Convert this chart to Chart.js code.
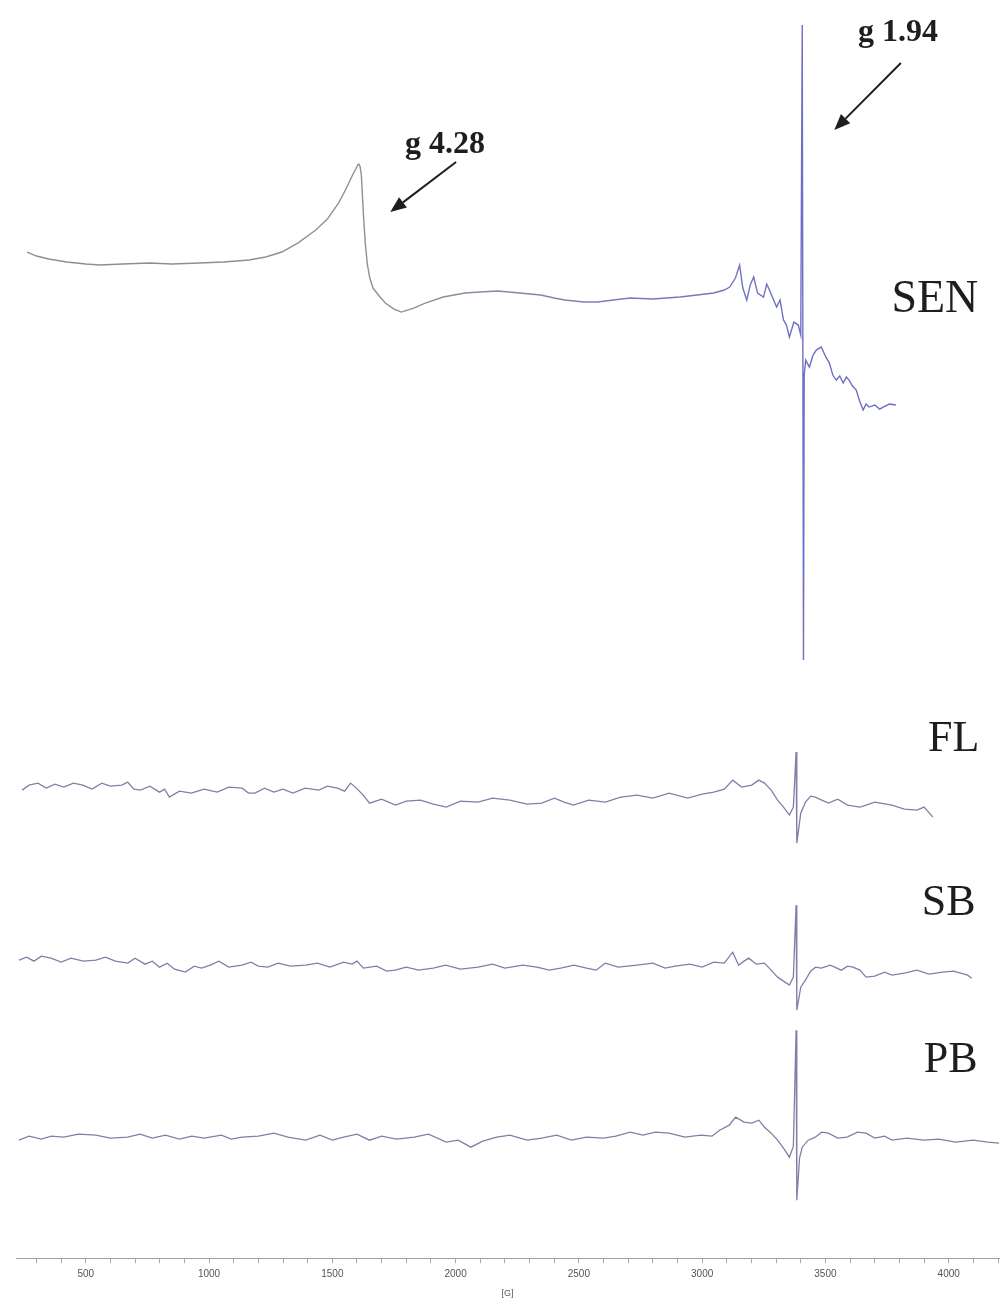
<!DOCTYPE html>
<html>
<head>
<meta charset="utf-8">
<script src="https://cdn.jsdelivr.net/npm/chart.js@4.4.1/dist/chart.umd.min.js"></script>
<style>
  html, body { margin: 0; padding: 0; background: #ffffff; }
  #wrap { width: 1003px; height: 1301px; }
</style>
</head>
<body>
<div id="wrap"><canvas id="c" width="1003" height="1301"></canvas></div>
<script>
// ---- Data (magnetic field in G, relative intensity in a.u.) ----
const seriesNames = ["SEN", "FL", "SB", "PB"];
const seriesOffsets = [-29, -79.5, -96.7, -113.8];

const senField = [262,300,350,423,500,557,650,758,850,960,1060,1162,1230,1295,1360,1433,1480,1525,1545,1565,1582,1595,1603,1608,1613,1618,1622,1627,1634,1642,1652,1665,1690,1715,1750,1780,1830,1877,1950,2038,2100,2171,2260,2345,2400,2442,2520,2575,2640,2708,2800,2910,2980,3047,3090,3112,3135,3152,3165,3181,3195,3209,3225,3249,3262,3273,3290,3302,3316,3330,3342,3354,3372,3390,3400,3406,3411,3414,3420,3435,3450,3463,3483,3500,3516,3530,3544,3558,3572,3585,3596,3610,3625,3640,3653,3665,3677,3700,3720,3734,3760,3786];
const senValue = [3.8,3.4,3.1,2.8,2.6,2.5,2.6,2.7,2.6,2.7,2.8,3.0,3.3,3.8,4.7,6.0,7.1,8.7,9.6,10.6,11.5,12.1,12.5,12.6,12.3,11.4,9.5,7.2,4.6,2.6,1.2,0.2,-0.6,-1.3,-1.9,-2.2,-1.8,-1.3,-0.7,-0.3,-0.2,-0.1,-0.3,-0.5,-0.8,-1.0,-1.2,-1.2,-1.0,-0.8,-0.9,-0.7,-0.5,-0.3,0.0,0.3,1.2,2.5,0.2,-1.0,0.5,1.3,-0.3,-0.7,0.6,0.0,-1.0,-1.7,-1.0,-3.0,-3.5,-4.7,-3.2,-3.5,-4.5,26.5,-37.0,-8.5,-7.0,-7.7,-6.5,-6.0,-5.7,-6.6,-7.3,-8.5,-9.0,-8.6,-9.3,-8.7,-9.0,-9.6,-10.0,-11.2,-12.0,-11.4,-11.7,-11.5,-11.9,-11.7,-11.4,-11.5];

const flField = [242,270,306,340,375,411,450,488,525,565,600,646,670,695,722,760,799,820,839,880,928,980,1033,1080,1134,1160,1186,1225,1263,1300,1340,1390,1445,1480,1521,1550,1574,1598,1625,1651,1700,1756,1800,1857,1910,1962,2020,2091,2150,2220,2290,2349,2401,2440,2478,2540,2607,2670,2736,2800,2866,2942,3000,3047,3090,3124,3160,3201,3230,3253,3280,3306,3330,3354,3370,3381,3384,3400,3419,3440,3459,3485,3512,3550,3590,3641,3700,3770,3820,3871,3900,3936];
const flValue = [0.5,1.0,1.2,0.7,1.1,0.8,1.2,1.0,0.6,1.2,0.9,1.0,1.3,0.6,0.5,0.9,0.3,0.6,-0.2,0.4,0.2,0.6,0.3,0.8,0.7,0.2,0.2,0.7,0.3,0.6,0.2,0.7,0.5,0.9,0.7,0.4,1.2,0.7,0.0,-0.8,-0.4,-1.0,-0.6,-0.5,-0.9,-1.2,-0.6,-0.7,-0.3,-0.5,-0.9,-0.8,-0.3,-0.7,-1.0,-0.5,-0.7,-0.2,0.0,-0.3,0.2,-0.3,0.1,0.3,0.6,1.5,0.8,1.0,1.5,1.2,0.5,-0.5,-1.2,-2.0,-1.2,4.3,-4.8,-1.8,-0.7,-0.1,-0.2,-0.5,-0.8,-0.4,-1.0,-1.2,-0.7,-1.0,-1.4,-1.5,-1.2,-2.2];

const sbField = [229,260,290,320,359,400,440,490,541,580,620,670,700,740,770,799,830,860,904,940,970,1005,1040,1080,1134,1170,1200,1239,1280,1330,1392,1440,1490,1546,1580,1600,1626,1680,1720,1755,1800,1850,1909,1960,2020,2091,2150,2200,2272,2330,2380,2426,2480,2531,2570,2607,2660,2736,2800,2850,2890,2950,3000,3047,3090,3124,3148,3170,3189,3220,3253,3280,3306,3330,3354,3370,3381,3384,3400,3419,3440,3460,3483,3520,3564,3590,3612,3640,3665,3700,3740,3770,3820,3871,3920,3976,4020,4077,4093];
const sbValue = [0.7,1.0,0.6,1.1,0.9,0.5,0.9,0.6,0.7,1.0,0.6,0.4,0.9,0.3,0.6,0.0,0.4,-0.2,-0.5,0.1,-0.1,0.2,0.6,0.0,0.2,0.5,0.1,0.0,0.4,0.1,0.2,0.4,0.0,0.5,0.3,0.6,-0.1,0.1,-0.4,-0.3,0.0,-0.3,-0.1,0.2,-0.2,0.0,0.3,-0.1,0.2,0.0,-0.3,-0.1,0.2,-0.1,-0.3,0.4,0.0,0.2,0.4,-0.1,0.1,0.3,0.0,0.5,0.4,1.5,0.2,0.6,0.9,0.3,0.4,-0.3,-1.0,-1.4,-1.8,-1.0,6.2,-4.3,-2.0,-1.3,-0.4,0.0,-0.1,0.2,-0.3,0.1,0.0,-0.3,-1.0,-0.9,-0.5,-0.8,-0.6,-0.3,-0.7,-0.5,-0.4,-0.8,-1.1];

const pbField = [229,270,320,360,411,470,541,600,670,720,770,823,880,930,980,1050,1090,1134,1200,1263,1320,1392,1450,1500,1546,1600,1651,1700,1760,1832,1890,1962,2010,2062,2110,2167,2220,2290,2349,2410,2470,2531,2600,2650,2708,2760,2810,2866,2930,2995,3040,3071,3110,3136,3170,3201,3230,3253,3280,3306,3330,3354,3370,3381,3384,3395,3406,3430,3459,3485,3512,3550,3588,3630,3665,3700,3740,3770,3830,3899,3960,4028,4100,4158,4205];
const pbValue = [-0.2,0.2,-0.1,0.2,0.1,0.4,0.3,0.0,0.1,0.4,0.0,0.3,-0.1,0.2,0.0,0.3,-0.1,0.1,0.2,0.5,0.1,-0.2,0.3,-0.2,0.1,0.4,-0.2,0.2,-0.1,0.1,0.4,-0.4,-0.2,-0.9,-0.3,0.1,0.3,-0.2,0.0,0.3,-0.2,0.1,0.0,0.2,0.6,0.3,0.6,0.5,0.1,0.3,0.2,0.8,1.3,2.1,1.6,1.5,1.8,1.1,0.5,-0.2,-1.0,-1.9,-0.8,10.8,-6.2,-2.0,-0.9,-0.2,0.1,0.6,0.5,0.0,0.1,0.6,0.5,0.0,0.2,-0.2,0.0,-0.2,-0.1,-0.4,-0.2,-0.4,-0.5];

const xTickStep = 100;
const xLabelStep = 500;
const xMin = 217, xMax = 4205;
const yMin = -125.8, yMax = 0;

// annotations: [text, field, value]
const peakLabels = [["g 4.28", 1957, -14.5], ["g 1.94", 3794, -3.3]];
const peakArrows = [[2002, -16.2, 1735, -21.2], [3806, -6.3, 3536, -13.0]];
const sampleLabelPos = [[3944, -30.0], [4020, -73.9], [4000, -90.3], [4008, -106.0]];

// ---- Build datasets ----
function pts(fx, vy, off) { return fx.map((g, i) => ({ x: g, y: vy[i] + off })); }
const fields = [senField, flField, sbField, pbField];
const values = [senValue, flValue, sbValue, pbValue];

function senGradient(ctx) {
  const ch = ctx.chart, a = ch.chartArea;
  if (!a) return '#888';
  const g = ch.ctx.createLinearGradient(a.left, 0, a.right, 0);
  g.addColorStop(0, '#8e8e8e');
  g.addColorStop(0.42, '#8f8f98');
  g.addColorStop(0.6, '#7c7cb8');
  g.addColorStop(0.8, '#6f6fc6');
  g.addColorStop(1, '#6c6cc8');
  return g;
}

const datasets = seriesNames.map((n, i) => ({
  label: n,
  data: pts(fields[i], values[i], seriesOffsets[i]),
  borderColor: i === 0 ? senGradient : '#7f7fa8',
  borderWidth: i === 0 ? 1.4 : 1.3,
  pointRadius: 0,
  fill: false,
  tension: 0
}));

const annotPlugin = {
  id: 'annot',
  afterDatasetsDraw(chart) {
    const c = chart.ctx, xs = chart.scales.x, ys = chart.scales.y;
    c.save();
    c.fillStyle = '#1e1e1e';
    c.strokeStyle = '#1e1e1e';
    c.textAlign = 'center';
    c.textBaseline = 'middle';
    c.font = 'bold 32px "Liberation Serif", "DejaVu Serif", serif';
    peakLabels.forEach(l => c.fillText(l[0], xs.getPixelForValue(l[1]), ys.getPixelForValue(l[2])));
    peakArrows.forEach(a => {
      const x1 = xs.getPixelForValue(a[0]), y1 = ys.getPixelForValue(a[1]);
      const x2 = xs.getPixelForValue(a[2]), y2 = ys.getPixelForValue(a[3]);
      const ang = Math.atan2(y2 - y1, x2 - x1);
      const hl = 16, hw = 6.5;
      const bx = x2 - hl * Math.cos(ang), by = y2 - hl * Math.sin(ang);
      c.lineWidth = 2;
      c.beginPath(); c.moveTo(x1, y1); c.lineTo(bx, by); c.stroke();
      c.beginPath();
      c.moveTo(x2, y2);
      c.lineTo(bx + hw * Math.sin(ang), by - hw * Math.cos(ang));
      c.lineTo(bx - hw * Math.sin(ang), by + hw * Math.cos(ang));
      c.closePath(); c.fill();
    });
    seriesNames.forEach((n, i) => {
      c.font = (i === 0 ? '46px' : '44px') + ' "Liberation Serif", "DejaVu Serif", serif';
      c.fillText(n, xs.getPixelForValue(sampleLabelPos[i][0]), ys.getPixelForValue(sampleLabelPos[i][1]));
    });
    c.restore();
  }
};

new Chart(document.getElementById('c'), {
  type: 'line',
  data: { datasets },
  plugins: [annotPlugin],
  options: {
    responsive: false,
    devicePixelRatio: 1,
    animation: false,
    layout: { padding: { left: 16, right: 0, top: 0, bottom: 0 } },
    plugins: { legend: { display: false }, tooltip: { enabled: false } },
    scales: {
      x: {
        type: 'linear',
        min: xMin, max: xMax,
        position: 'bottom',
        border: { display: true, color: '#a0a0a0', width: 1 },
        grid: { display: true, drawOnChartArea: false, drawTicks: true, tickLength: 5, color: '#aaaaaa' },
        ticks: {
          stepSize: xTickStep,
          includeBounds: false,
          autoSkip: false,
          maxRotation: 0,
          padding: 5,
          color: '#555555',
          font: { size: 10, family: '"Liberation Sans Narrow", "Liberation Sans", sans-serif' },
          callback: v => (v % xLabelStep === 0 ? String(v) : '')
        },
        title: {
          display: true, text: '[G]', color: '#5a5a5a',
          font: { size: 9, family: '"Liberation Sans Narrow", "Liberation Sans", sans-serif' },
          padding: { top: 3, bottom: 2 }
        }
      },
      y: { type: 'linear', display: false, min: yMin, max: yMax }
    }
  }
});
</script>
</body>
</html>
